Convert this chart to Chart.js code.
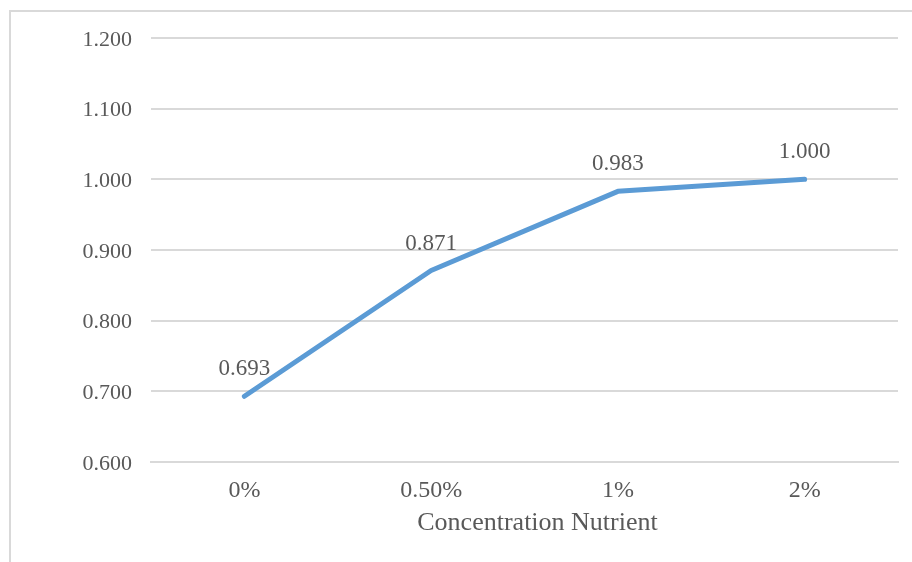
<!DOCTYPE html>
<html>
<head>
<meta charset="utf-8">
<script src="https://cdn.jsdelivr.net/npm/chart.js@4/dist/chart.umd.min.js"></script>
<style>
  html, body { margin: 0; padding: 0; background: #ffffff; }
  #wrap { position: relative; width: 912px; height: 562px; overflow: hidden; }
  #frame { position: absolute; left: 9px; top: 10px; width: 920px; height: 570px;
           border-left: 2px solid #d9d9d9; border-top: 2px solid #d9d9d9; box-sizing: border-box; }
  canvas { position: absolute; left: 0; top: 0; }
</style>
</head>
<body>
<div id="wrap">
  <div id="frame"></div>
  <canvas id="chart" width="912" height="562"></canvas>
</div>
<script>
// Concentration levels and the measured response at each level
const categories = ['0%', '0.50%', '1%', '2%'];
const values = [0.693, 0.871, 0.983, 1.000];
const yTicks = [0.6, 0.7, 0.8, 0.9, 1.0, 1.1, 1.2];
const xTitle = 'Concentration Nutrient';

const textColor = '#595959';
const fontFamily = '"Liberation Serif", "Times New Roman", serif';

// Writes each point's value above it, and the axis title under the x labels
const annotations = {
  id: 'annotations',
  afterDatasetsDraw(chart) {
    const ctx = chart.ctx;
    const meta = chart.getDatasetMeta(0);
    const area = chart.chartArea;
    ctx.save();
    ctx.fillStyle = textColor;
    ctx.textAlign = 'center';
    ctx.textBaseline = 'middle';
    ctx.font = '23px ' + fontFamily;
    meta.data.forEach((pt, i) => {
      ctx.fillText(values[i].toFixed(3), pt.x, pt.y - 27);
    });
    ctx.font = '26px ' + fontFamily;
    ctx.fillText(xTitle, (area.left + area.right) / 2 + 13, area.bottom + 61);
    ctx.restore();
  }
};

new Chart(document.getElementById('chart'), {
  type: 'line',
  data: {
    labels: categories,
    datasets: [{
      data: values,
      borderColor: '#5b9bd5',
      borderWidth: 5,
      borderCapStyle: 'round',
      borderJoinStyle: 'round',
      pointRadius: 0,
      tension: 0,
      fill: false
    }]
  },
  options: {
    responsive: false,
    animation: false,
    devicePixelRatio: 1,
    layout: { padding: { top: 38, right: 14, left: 0, bottom: 0 } },
    plugins: { legend: { display: false }, tooltip: { enabled: false } },
    scales: {
      x: {
        offset: true,
        grid: { display: false, drawTicks: false },
        border: { display: true, color: '#d9d9d9', width: 2 },
        ticks: { color: textColor, font: { family: fontFamily, size: 24 }, padding: 14 },
        title: { display: false },
        afterFit(scale) { scale.height = 100; }
      },
      y: {
        min: 0.6,
        max: 1.2,
        afterBuildTicks(scale) { scale.ticks = yTicks.map(v => ({ value: v })); },
        grid: { color: '#d9d9d9', lineWidth: 2, drawTicks: false },
        border: { display: false },
        ticks: {
          color: textColor,
          font: { family: fontFamily, size: 22 },
          padding: 19,
          labelOffset: 2,
          callback: v => Number(v).toFixed(3)
        },
        afterFit(scale) { scale.width = 151; }
      }
    }
  },
  plugins: [annotations]
});
</script>
</body>
</html>
